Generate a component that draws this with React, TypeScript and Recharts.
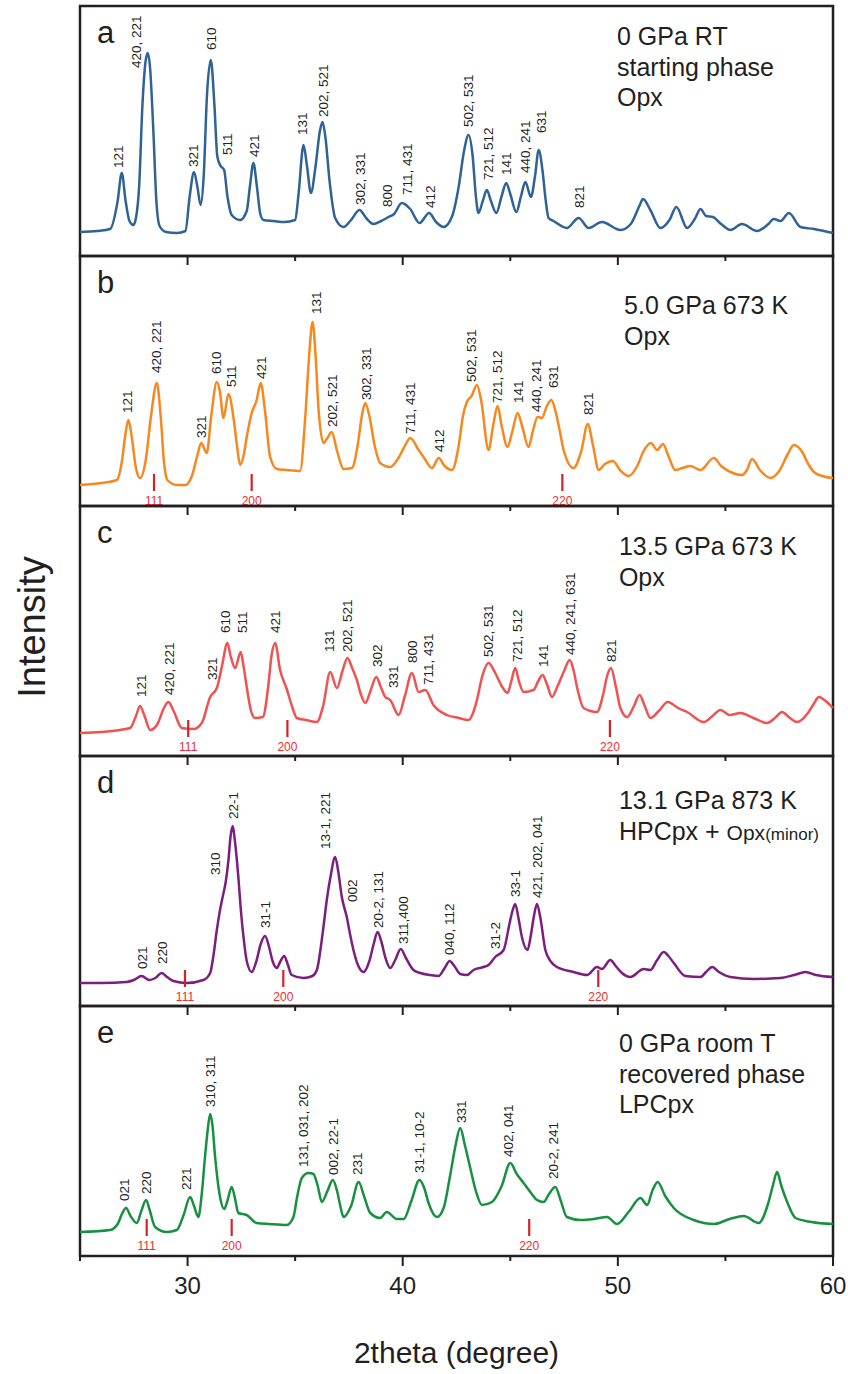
import React from 'react';
import { ComposedChart, Line, Scatter, XAxis, YAxis, ReferenceArea, Label } from 'recharts';

type Pt = [number, number];
type Lbl = [number, number, string];
type Seg = [string, number];
type InfoLine = string | Seg[];

// ---------- tick values ----------
const bottomTicks = [25, 30, 35, 40, 45, 50, 55, 60];
const topTicks = [30, 35, 40, 45, 50, 55];
const xDomain: [number, number] = [25, 60];
const yDomain: [number, number] = [0, 250];

// ---------- panel a : 0 GPa RT (blue) ----------
const patternA: Pt[] = [
  [25.0, 24], [25.8, 25], [26.4, 27], [26.75, 55], [26.94, 83], [27.12, 55], [27.3, 35], [27.48, 31],
  [27.6, 38], [27.75, 70], [27.9, 150], [28.05, 195], [28.15, 203], [28.25, 190], [28.4, 130], [28.55, 55],
  [28.7, 30], [29.0, 24], [29.5, 23], [29.9, 25], [30.1, 60], [30.3, 84], [30.45, 70], [30.61, 51],
  [30.75, 80], [30.9, 160], [31.08, 196], [31.25, 150], [31.38, 100], [31.51, 91], [31.7, 86], [31.85, 60],
  [32.05, 41], [32.44, 36], [32.75, 45], [32.9, 70], [33.06, 93], [33.22, 70], [33.38, 42], [33.53, 36],
  [34.0, 35], [34.5, 34], [35.0, 36], [35.15, 60], [35.39, 111], [35.55, 90], [35.73, 63], [35.95, 90],
  [36.15, 125], [36.27, 134], [36.4, 120], [36.6, 75], [36.86, 38], [37.25, 29], [37.6, 36], [37.99, 46],
  [38.3, 38], [38.64, 32], [39.0, 35], [39.34, 39], [39.6, 42], [39.96, 53], [40.35, 47], [40.78, 33],
  [41.23, 43], [41.55, 34], [41.9, 29], [42.3, 40], [42.6, 69], [42.85, 105], [43.06, 121], [43.25, 100],
  [43.4, 60], [43.52, 43], [43.72, 55], [43.91, 66], [44.1, 55], [44.35, 43], [44.6, 60], [44.81, 73],
  [45.0, 62], [45.28, 44], [45.5, 60], [45.7, 74], [45.96, 59], [46.15, 80], [46.32, 106], [46.5, 85],
  [46.65, 55], [46.78, 38], [47.01, 35], [47.63, 28], [48.18, 38], [48.64, 28], [49.26, 34], [50.12, 26],
  [50.6, 32], [51.0, 50], [51.17, 57], [51.51, 46], [51.98, 28], [52.4, 36], [52.72, 49], [53.22, 28],
  [53.6, 38], [53.84, 47], [54.1, 40], [54.42, 39], [54.8, 32], [55.23, 26], [55.77, 32], [56.47, 25],
  [57.0, 32], [57.25, 37], [57.56, 35], [57.95, 43], [58.49, 29], [59.11, 27], [60.0, 23],
];
const peaksA: Lbl[] = [
  [26.78, 88, '121'], [27.63, 188, '420, 221'], [30.27, 89, '321'], [31.08, 206, '610'], [31.85, 101, '511'],
  [33.09, 99, '421'], [35.34, 121, '131'], [36.32, 139, '202, 521'], [38.02, 51, '302, 331'], [39.29, 49, '800'],
  [40.19, 61, '711, 431'], [41.28, 48, '412'], [43.06, 129, '502, 531'], [43.99, 76, '721, 512'], [44.81, 81, '141'],
  [45.7, 83, '440, 241'], [46.42, 123, '631'], [48.22, 48, '821'],
];

// ---------- panel b : 5.0 GPa 673 K (orange) ----------
const patternB: Pt[] = [
  [25.0, 21], [26.0, 23], [26.71, 26], [26.95, 45], [27.1, 70], [27.25, 86], [27.4, 70], [27.6, 38],
  [27.79, 28], [28.05, 45], [28.3, 90], [28.57, 123], [28.75, 90], [28.9, 45], [29.06, 26], [29.5, 21],
  [29.9, 21], [30.2, 30], [30.45, 50], [30.63, 63], [30.89, 53], [31.1, 90], [31.36, 124], [31.5, 115],
  [31.67, 88], [31.9, 112], [32.13, 89], [32.3, 60], [32.44, 41], [32.6, 50], [32.75, 69], [32.98, 93],
  [33.2, 105], [33.4, 123], [33.6, 95], [33.84, 49], [34.15, 37], [34.6, 36], [35.23, 35], [35.47, 89],
  [35.65, 150], [35.81, 184], [35.95, 150], [36.09, 96], [36.32, 63], [36.5, 68], [36.7, 74], [36.95, 55],
  [37.25, 37], [37.64, 38], [37.9, 60], [38.1, 90], [38.26, 103], [38.45, 90], [38.7, 60], [38.95, 43],
  [39.42, 39], [39.8, 48], [40.1, 60], [40.35, 68], [40.74, 56], [41.0, 48], [41.36, 38], [41.67, 48],
  [41.95, 40], [42.29, 36], [42.6, 60], [42.8, 90], [42.98, 104], [43.2, 110], [43.45, 121], [43.65, 105],
  [43.99, 56], [44.2, 80], [44.41, 100], [44.6, 80], [44.87, 59], [45.1, 75], [45.34, 93], [45.55, 80],
  [45.85, 59], [46.05, 75], [46.27, 89], [46.47, 88], [46.7, 100], [46.91, 106], [47.1, 95], [47.3, 75],
  [47.48, 56], [47.94, 38], [48.3, 55], [48.6, 82], [48.85, 60], [49.11, 36], [49.4, 42], [49.77, 45],
  [50.1, 36], [50.5, 30], [50.9, 40], [51.2, 55], [51.54, 63], [51.82, 56], [52.1, 62], [52.35, 50],
  [52.67, 36], [53.0, 38], [53.37, 40], [53.84, 36], [54.46, 48], [54.8, 40], [55.23, 34], [55.77, 31],
  [56.0, 36], [56.24, 47], [56.6, 36], [57.09, 28], [57.5, 35], [57.9, 52], [58.18, 61], [58.57, 54],
  [58.85, 42], [59.11, 34], [59.5, 30], [60.0, 28],
];
const peaksB: Lbl[] = [
  [27.2, 93, '121'], [28.53, 133, '420, 221'], [30.61, 68, '321'], [31.33, 132, '610'], [32.02, 119, '511'],
  [33.42, 127, '421'], [35.98, 192, '131'], [36.7, 79, '202, 521'], [38.29, 106, '302, 331'], [40.35, 72, '711, 431'],
  [41.71, 54, '412'], [43.18, 124, '502, 531'], [44.41, 103, '721, 512'], [45.38, 103, '141'], [46.21, 94, '440, 241'],
  [47.01, 118, '631'], [48.6, 91, '821'],
];
const refB: Lbl[] = [[28.44, 32, '111'], [32.98, 32, '200'], [47.42, 32, '220']];

// ---------- panel c : 13.5 GPa 673 K (red) ----------
const patternC: Pt[] = [
  [25.0, 23], [26.0, 24], [26.86, 26], [27.33, 28], [27.6, 40], [27.79, 50], [28.0, 40], [28.26, 26],
  [28.6, 32], [28.9, 48], [29.11, 54], [29.35, 45], [29.73, 28], [30.27, 27], [30.66, 33], [31.05, 59],
  [31.36, 68], [31.6, 90], [31.85, 113], [32.0, 100], [32.21, 88], [32.47, 104], [32.6, 90], [32.75, 69],
  [32.95, 45], [33.14, 38], [33.5, 39], [33.75, 70], [33.9, 100], [34.07, 113], [34.3, 86], [34.61, 67],
  [34.85, 50], [35.08, 38], [35.5, 36], [36.01, 34], [36.3, 50], [36.63, 84], [36.94, 68], [37.2, 85],
  [37.43, 98], [37.65, 88], [37.87, 76], [38.05, 62], [38.26, 53], [38.5, 65], [38.77, 79], [39.0, 68],
  [39.19, 59], [39.42, 56], [39.81, 41], [40.1, 60], [40.43, 83], [40.74, 64], [41.05, 66], [41.43, 51],
  [42.05, 41], [42.6, 38], [43.06, 36], [43.25, 42], [43.45, 56], [43.7, 80], [43.99, 93], [44.3, 83],
  [44.6, 70], [44.87, 63], [45.05, 75], [45.23, 88], [45.4, 75], [45.62, 64], [46.08, 66], [46.3, 75],
  [46.5, 81], [46.7, 72], [46.94, 59], [47.2, 70], [47.5, 85], [47.76, 96], [47.95, 85], [48.1, 69],
  [48.41, 48], [49.03, 44], [49.3, 60], [49.5, 80], [49.68, 88], [49.9, 70], [50.12, 48], [50.43, 39],
  [50.75, 50], [51.01, 61], [51.25, 50], [51.51, 38], [51.9, 45], [52.32, 54], [52.8, 48], [53.22, 44],
  [53.99, 34], [54.4, 40], [54.77, 46], [55.2, 41], [55.7, 43], [56.3, 38], [56.94, 33], [57.3, 38],
  [57.63, 44], [58.0, 38], [58.33, 34], [58.8, 42], [59.1, 52], [59.34, 59], [59.6, 56], [60.0, 48],
];
const peaksC: Lbl[] = [
  [27.82, 59, '121'], [29.15, 61, '420, 221'], [31.12, 76, '321'], [31.74, 123, '610'], [32.52, 123, '511'],
  [34.07, 123, '421'], [36.59, 104, '131'], [37.4, 104, '202, 521'], [38.8, 89, '302'], [39.54, 68, '331'],
  [40.43, 93, '800'], [41.2, 71, '711, 431'], [43.99, 99, '502, 531'], [45.31, 94, '721, 512'], [46.52, 89, '141'],
  [47.79, 101, '440, 241, 631'], [49.68, 94, '821'],
];
const refC: Lbl[] = [[30.03, 36, '111'], [34.64, 36, '200'], [49.63, 36, '220']];

// ---------- panel d : 13.1 GPa 873 K (purple) ----------
const patternD: Pt[] = [
  [25.0, 23], [26.0, 23], [27.17, 24], [27.5, 26], [27.86, 30], [28.22, 26], [28.5, 28], [28.8, 33],
  [29.05, 29], [29.34, 25], [29.96, 23], [30.74, 26], [31.05, 33], [31.2, 50], [31.36, 76], [31.5, 95],
  [31.63, 109], [31.78, 125], [31.9, 146], [32.0, 170], [32.1, 180], [32.2, 165], [32.36, 129], [32.48, 95],
  [32.6, 69], [32.75, 45], [32.98, 34], [33.2, 45], [33.4, 62], [33.6, 70], [33.8, 58], [33.95, 45],
  [34.15, 38], [34.3, 44], [34.49, 50], [34.65, 42], [34.84, 31], [35.39, 28], [35.8, 30], [36.01, 36],
  [36.2, 60], [36.35, 85], [36.47, 106], [36.65, 130], [36.86, 149], [37.0, 135], [37.17, 109], [37.4, 89],
  [37.55, 72], [37.71, 56], [37.9, 42], [38.18, 34], [38.45, 45], [38.65, 62], [38.83, 74], [39.0, 65],
  [39.2, 48], [39.42, 38], [39.65, 46], [39.91, 57], [40.15, 48], [40.5, 36], [40.81, 33], [41.28, 31],
  [41.67, 30], [41.95, 38], [42.18, 45], [42.4, 40], [42.67, 32], [42.98, 31], [43.29, 36], [43.76, 39],
  [43.99, 41], [44.3, 49], [44.69, 56], [44.97, 83], [45.1, 95], [45.23, 102], [45.38, 88], [45.54, 69],
  [45.8, 56], [45.95, 70], [46.1, 90], [46.24, 102], [46.4, 88], [46.63, 56], [46.9, 44], [47.17, 39],
  [47.94, 34], [48.57, 31], [49.03, 39], [49.26, 37], [49.65, 46], [49.9, 40], [50.19, 33], [50.58, 29],
  [51.2, 37], [51.51, 36], [51.8, 45], [52.13, 54], [52.35, 50], [52.6, 43], [53.14, 30], [53.84, 29],
  [54.1, 34], [54.38, 39], [54.7, 34], [55.23, 29], [56.32, 27], [57.56, 28], [58.2, 31], [58.72, 34],
  [59.2, 31], [60.0, 29],
];
const peaksD: Lbl[] = [
  [27.91, 37, '021'], [28.8, 42, '220'], [31.28, 131, '310'], [32.1, 187, '22-1'], [33.6, 78, '31-1'],
  [36.4, 157, '13-1, 221'], [37.64, 104, '002'], [38.87, 78, '20-2, 131'], [40.01, 62, '311,400'],
  [42.18, 51, '040, 112'], [44.3, 57, '31-2'], [45.23, 109, '33-1'], [46.27, 108, '421, 202, 041'],
];
const refD: Lbl[] = [[29.88, 36, '111'], [34.45, 36, '200'], [49.09, 36, '220']];

// ---------- panel e : 0 GPa room T recovered (green) ----------
const patternE: Pt[] = [
  [25.0, 24], [26.4, 26], [26.75, 32], [26.95, 42], [27.14, 48], [27.35, 40], [27.64, 33], [27.85, 45],
  [28.07, 56], [28.25, 45], [28.49, 29], [29.03, 24], [29.5, 26], [29.8, 40], [30.12, 59], [30.3, 50],
  [30.5, 39], [30.65, 60], [30.81, 99], [30.93, 125], [31.05, 142], [31.16, 130], [31.28, 99], [31.4, 75],
  [31.51, 59], [31.7, 47], [31.85, 55], [32.05, 69], [32.2, 58], [32.36, 43], [32.75, 41], [33.21, 33],
  [33.8, 32], [34.61, 31], [34.92, 39], [35.1, 60], [35.31, 78], [35.62, 83], [35.85, 82], [36.05, 70],
  [36.24, 54], [36.5, 65], [36.75, 76], [36.95, 65], [37.1, 50], [37.25, 39], [37.6, 50], [37.95, 74],
  [38.2, 60], [38.49, 43], [38.95, 38], [39.26, 44], [39.73, 37], [40.04, 37], [40.4, 55], [40.78, 76],
  [41.0, 68], [41.2, 53], [41.59, 39], [41.9, 48], [42.2, 80], [42.45, 110], [42.67, 128], [42.9, 110],
  [43.14, 88], [43.4, 65], [43.68, 51], [44.15, 54], [44.6, 70], [45.0, 93], [45.3, 82], [45.62, 73],
  [46.0, 62], [46.24, 56], [46.55, 54], [46.8, 62], [47.09, 69], [47.35, 55], [47.63, 39], [48.26, 36],
  [48.9, 37], [49.5, 39], [49.96, 32], [50.5, 44], [51.05, 58], [51.36, 51], [51.6, 65], [51.85, 74],
  [52.2, 60], [52.6, 48], [53.53, 36], [54.46, 32], [55.2, 37], [55.85, 40], [56.55, 33], [56.95, 50],
  [57.2, 70], [57.4, 84], [57.6, 70], [57.87, 54], [58.26, 38], [59.0, 34], [60.0, 32],
];
const peaksE: Lbl[] = [
  [27.05, 55, '021'], [28.07, 62, '220'], [29.93, 66, '221'], [31.05, 149, '310, 311'],
  [35.39, 89, '131, 031, 202'], [36.78, 81, '002, 22-1'], [37.9, 81, '231'], [40.74, 83, '31-1, 10-2'],
  [42.71, 133, '331'], [44.92, 99, '402, 041'], [47.01, 77, '20-2, 241'],
];
const refE: Lbl[] = [[28.1, 37, '111'], [32.05, 37, '200'], [45.88, 37, '220']];

// ---------- panel captions ----------
const captionA: InfoLine[] = ['0 GPa RT', 'starting phase', 'Opx'];
const captionB: InfoLine[] = ['5.0 GPa 673 K', 'Opx'];
const captionC: InfoLine[] = ['13.5 GPa 673 K', 'Opx'];
const captionD: InfoLine[] = ['13.1 GPa 873 K', [['HPCpx + ', 1], ['Opx', 0.84], ['(minor)', 0.68]]];
const captionE: InfoLine[] = ['0 GPa room T', 'recovered phase', 'LPCpx'];
const captionAnchor: Pt[] = [[49.96, 211], [50.29, 192], [50.05, 201], [50.05, 197], [50.05, 204]];
const letterAnchor: Pt = [25.79, 213];

// ---------- styles ----------
const FONT = '"Liberation Sans", Arial, Helvetica, sans-serif';
const INK = '#231F20';
const TICK_RED = '#D2232A';
const TEXT_RED = '#EE2B2F';
const W = 848;
const PH = 250;
const PAD = 4;
const BOTTOM_AXIS_H = 114;

const PeakLabel = (p: any) => (
  <text
    transform={`translate(${p.cx},${p.cy}) rotate(-90)`}
    dy="0.36em"
    fontSize={13.5}
    fontFamily={FONT}
    fill={INK}
  >
    {p.payload.text}
  </text>
);

const RefMarker = (p: any) => (
  <g>
    <line x1={p.cx} x2={p.cx} y1={p.cy} y2={p.cy + 17} stroke={TICK_RED} strokeWidth={2.2} />
    <text x={p.cx} y={p.cy + 31} textAnchor="middle" fontSize={12} fontFamily={FONT} fill={TEXT_RED}>
      {p.payload.text}
    </text>
  </g>
);

// inward tick hanging from the top frame of a panel
const TopTickMark = (p: any) => {
  const len = p.payload.t % 10 === 0 ? 9 : 5;
  return <line x1={p.cx} x2={p.cx} y1={p.cy} y2={p.cy + len} stroke={INK} strokeWidth={2} />;
};

const makeLetter = (letter: string) => (p: any) => (
  <text x={p.cx} y={p.cy} fontSize={31} fontFamily={FONT} fill={INK}>
    {letter}
  </text>
);

const makeCaption = (lines: InfoLine[]) => (p: any) => (
  <text x={p.cx} y={p.cy} fontSize={25} fontFamily={FONT} fill={INK}>
    {lines.map((ln, i) => (
      <tspan key={i} x={p.cx} dy={i === 0 ? 0 : 30.5}>
        {typeof ln === 'string'
          ? ln
          : ln.map(([s, k], j) => (
              <tspan key={j} fontSize={25 * k}>
                {s}
              </tspan>
            ))}
      </tspan>
    ))}
  </text>
);

const BottomTick = (p: any) => {
  const v = p.payload.value;
  const major = v % 10 === 0;
  return (
    <g>
      <line x1={p.x} x2={p.x} y1={p.y} y2={p.y + (major ? 10 : 5)} stroke={INK} strokeWidth={2} />
      {major && (
        <text x={p.x} y={p.y + 38} textAnchor="middle" fontSize={24} fontFamily={FONT} fill={INK}>
          {v}
        </text>
      )}
    </g>
  );
};

const XTitle = (p: any) => {
  const vb = p.viewBox;
  return (
    <text x={vb.x + vb.width / 2} y={vb.y + 107} textAnchor="middle" fontSize={30} fontFamily={FONT} fill={INK}>
      2theta (degree)
    </text>
  );
};

const YTitle = (p: any) => {
  const vb = p.viewBox;
  return (
    <text
      transform={`translate(${vb.x + 45},${vb.y + vb.height / 2 - 4}) rotate(-90)`}
      textAnchor="middle"
      fontSize={38}
      fontFamily={FONT}
      fill={INK}
    >
      Intensity
    </text>
  );
};

type PanelProps = {
  top: number;
  pattern: Pt[];
  color: string;
  peaks: Lbl[];
  refs?: Lbl[];
  letter: string;
  caption: InfoLine[];
  anchor: Pt;
  withTopTicks?: boolean;
  withBottomAxis?: boolean;
  withYTitle?: boolean;
};

function Panel(props: PanelProps) {
  const { top, pattern, color, peaks, refs, letter, caption, anchor, withTopTicks, withBottomAxis, withYTitle } = props;
  const lineData = pattern.map(([t, I]) => ({ t, I }));
  const peakData = peaks.map(([t, I, text]) => ({ t, I, text }));
  const refData = (refs || []).map(([t, I, text]) => ({ t, I, text }));
  const letterData = [{ t: letterAnchor[0], I: letterAnchor[1] }];
  const captionData = [{ t: anchor[0], I: anchor[1] }];
  const topTickData = topTicks.map((t) => ({ t, I: yDomain[1] }));
  const bottomH = withBottomAxis ? BOTTOM_AXIS_H : PAD;
  return (
    <div style={{ position: 'absolute', left: 0, top: top - PAD }}>
      <ComposedChart
        width={W}
        height={PAD + PH + bottomH}
        margin={{ top: PAD, right: 15, bottom: withBottomAxis ? 0 : PAD, left: withYTitle ? 0 : 80 }}
      >
        <XAxis
          xAxisId="x"
          dataKey="t"
          type="number"
          domain={xDomain}
          ticks={bottomTicks}
          interval={0}
          hide={!withBottomAxis}
          height={BOTTOM_AXIS_H}
          axisLine={false}
          tickLine={false}
          tickSize={0}
          tickMargin={0}
          tick={BottomTick}
        >
          {withBottomAxis && <Label content={XTitle} />}
        </XAxis>
        <YAxis
          yAxisId="y"
          type="number"
          domain={yDomain}
          hide={!withYTitle}
          width={80}
          tick={false}
          axisLine={false}
          tickLine={false}
        >
          {withYTitle && <Label content={YTitle} />}
        </YAxis>
        <ReferenceArea
          xAxisId="x"
          yAxisId="y"
          x1={xDomain[0]}
          x2={xDomain[1]}
          y1={yDomain[0]}
          y2={yDomain[1]}
          fill="none"
          fillOpacity={0}
          stroke={INK}
          strokeWidth={2.5}
          ifOverflow="visible"
        />
        <Line
          xAxisId="x"
          yAxisId="y"
          data={lineData}
          dataKey="I"
          type="monotone"
          stroke={color}
          strokeWidth={2.5}
          dot={false}
          activeDot={false}
          isAnimationActive={false}
        />
        {withTopTicks && (
          <Scatter xAxisId="x" yAxisId="y" data={topTickData} dataKey="I" shape={TopTickMark} isAnimationActive={false} />
        )}
        <Scatter xAxisId="x" yAxisId="y" data={peakData} dataKey="I" shape={PeakLabel} isAnimationActive={false} />
        {refs && (
          <Scatter xAxisId="x" yAxisId="y" data={refData} dataKey="I" shape={RefMarker} isAnimationActive={false} />
        )}
        <Scatter xAxisId="x" yAxisId="y" data={letterData} dataKey="I" shape={makeLetter(letter)} isAnimationActive={false} />
        <Scatter xAxisId="x" yAxisId="y" data={captionData} dataKey="I" shape={makeCaption(caption)} isAnimationActive={false} />
      </ComposedChart>
    </div>
  );
}

export default function App() {
  return (
    <div style={{ position: 'absolute', left: 0, top: 0, width: W, height: 1374, background: '#fff' }}>
      <Panel top={6} pattern={patternA} color="#2F6296" peaks={peaksA} letter="a" caption={captionA} anchor={captionAnchor[0]} />
      <Panel top={256} pattern={patternB} color="#F7881F" peaks={peaksB} refs={refB} letter="b" caption={captionB} anchor={captionAnchor[1]} withTopTicks />
      <Panel top={506} pattern={patternC} color="#EF5250" peaks={peaksC} refs={refC} letter="c" caption={captionC} anchor={captionAnchor[2]} withTopTicks withYTitle />
      <Panel top={756} pattern={patternD} color="#7B1E7E" peaks={peaksD} refs={refD} letter="d" caption={captionD} anchor={captionAnchor[3]} withTopTicks />
      <Panel top={1006} pattern={patternE} color="#17913F" peaks={peaksE} refs={refE} letter="e" caption={captionE} anchor={captionAnchor[4]} withTopTicks withBottomAxis />
    </div>
  );
}
